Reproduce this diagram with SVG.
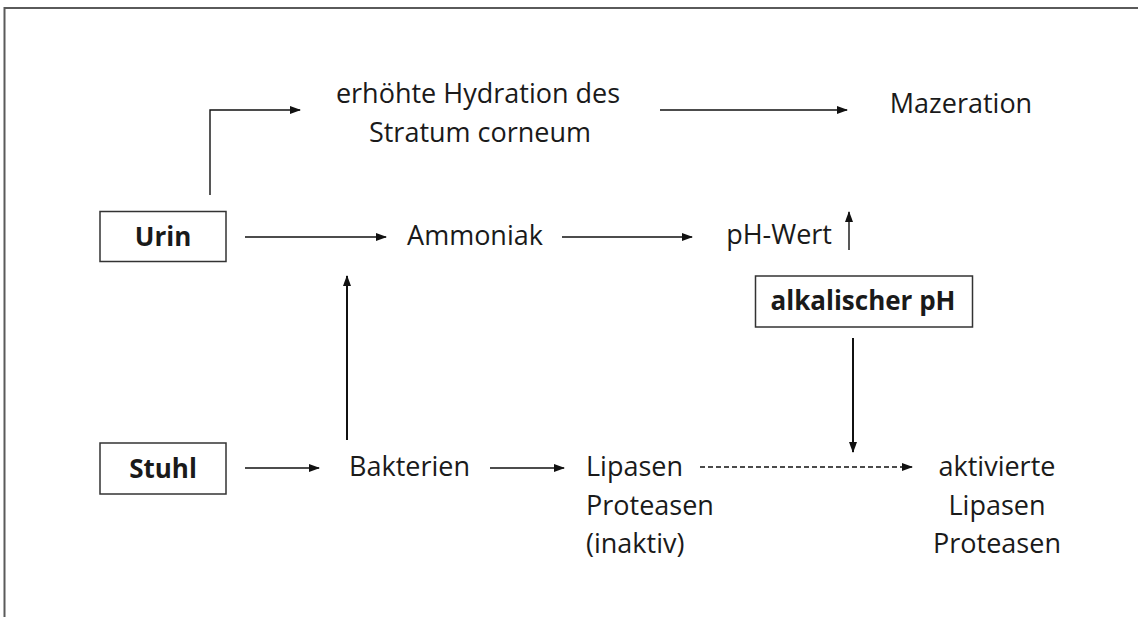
<svg xmlns="http://www.w3.org/2000/svg" width="1138" height="617" viewBox="0 0 1138 617">
<style>
text{font-family:"Open Sans","Noto Sans",sans-serif;font-size:27px;fill:#1a1a1a}
.b{font-weight:bold;font-size:26px}
.box{fill:#fff;stroke:#333;stroke-width:1.5}
.c{fill:none;stroke:#111;stroke-width:1.4}
.t{stroke-width:2}
.d{stroke-dasharray:5 3}
</style>
<defs>
<marker id="ah" markerUnits="userSpaceOnUse" markerWidth="11" markerHeight="8" refX="10" refY="4" orient="auto">
<path d="M0,0 L11,4 L0,8 z" fill="#111"/>
</marker>
</defs>
<rect width="1138" height="617" fill="#fff"/>
<path d="M4.5,617 V8 H1138" fill="none" stroke="#5a5a5a" stroke-width="2"/>
<g id="connectors">
<path class="c" d="M210,195 V110 H300" marker-end="url(#ah)"/>
<path class="c" d="M660,110 H847" marker-end="url(#ah)"/>
<path class="c" d="M245,237 H386" marker-end="url(#ah)"/>
<path class="c" d="M562,237 H692" marker-end="url(#ah)"/>
<path class="c" d="M849,250 V212" marker-end="url(#ah)"/>
<path class="c t" d="M853,338 V452" marker-end="url(#ah)"/>
<path class="c t" d="M347,440 V276" marker-end="url(#ah)"/>
<path class="c" d="M245,468 H319" marker-end="url(#ah)"/>
<path class="c" d="M490,468 H564" marker-end="url(#ah)"/>
<path class="c d" d="M700,467 H912" marker-end="url(#ah)"/>
</g>
<g id="urin"><rect class="box" x="100" y="211.5" width="126" height="50"/><text class="b" x="163" y="246" text-anchor="middle">Urin</text></g>
<g id="stuhl"><rect class="box" x="100" y="443" width="126" height="51"/><text class="b" x="163" y="478" text-anchor="middle">Stuhl</text></g>
<g id="alkalisch"><rect class="box" x="755.5" y="276" width="217" height="51"/><text class="b" x="863" y="310" text-anchor="middle">alkalischer pH</text></g>
<g id="hydration"><text x="478" y="103" text-anchor="middle">erhöhte Hydration des</text><text x="480" y="142" text-anchor="middle">Stratum corneum</text></g>
<g id="mazeration"><text x="961" y="113" text-anchor="middle">Mazeration</text></g>
<g id="ammoniak"><text x="475" y="245" text-anchor="middle">Ammoniak</text></g>
<g id="phwert"><text x="832" y="244" text-anchor="end">pH-Wert</text></g>
<g id="bakterien"><text x="349" y="476">Bakterien</text></g>
<g id="lipasen-inaktiv"><text x="586" y="476">Lipasen</text><text x="586" y="515">Proteasen</text><text x="586" y="553">(inaktiv)</text></g>
<g id="aktiviert"><text x="997" y="476" text-anchor="middle">aktivierte</text><text x="997" y="515" text-anchor="middle">Lipasen</text><text x="997" y="553" text-anchor="middle">Proteasen</text></g>
</svg>
